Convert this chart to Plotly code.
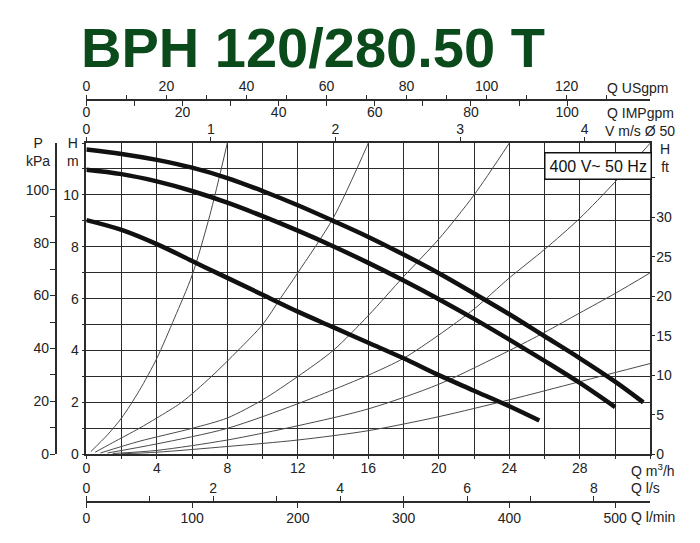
import plotly.graph_objects as go
import math

# page is 700x543; the html body has an 8px margin, so the figure is 684x527
PAGE_W, PAGE_H = 700, 543
OFF = 8
W, H = PAGE_W - 2 * OFF, PAGE_H - 2 * OFF

# ---------------- data ----------------
# pump curves, Q in m3/h, H in m
qA = [0, 2, 4, 6, 8, 10, 12, 14, 16, 18, 20, 22, 24, 26, 28, 30, 31.6]
hA = [11.75, 11.58, 11.35, 11.05, 10.65, 10.15, 9.6, 9.0, 8.38, 7.7, 6.98, 6.2, 5.4, 4.55, 3.7, 2.8, 2.0]
qB = [0, 2, 4, 6, 8, 10, 12, 14, 16, 18, 20, 22, 24, 26, 28, 30]
hB = [10.97, 10.8, 10.52, 10.15, 9.7, 9.18, 8.62, 8.02, 7.38, 6.7, 5.98, 5.22, 4.42, 3.6, 2.75, 1.82]
qC = [0, 2, 4, 6, 8, 10, 12, 14, 16, 18, 20, 22, 24, 25.7]
hC = [9.03, 8.65, 8.1, 7.45, 6.8, 6.15, 5.5, 4.9, 4.3, 3.7, 3.05, 2.45, 1.85, 1.3]

# system curves (thin)
qS1 = [0.25, 1.2, 2, 3, 4, 5, 6, 7, 8]
hS1 = [0.1, 0.75, 1.4, 2.45, 3.7, 5.25, 6.9, 9.2, 12.0]
qS2 = [0.5, 1.5, 3, 4, 5.4, 7.1, 8.6, 10, 11, 12, 14, 16]
hS2 = [0.08, 0.45, 1.0, 1.4, 2.0, 3.0, 4.0, 5.0, 6.0, 7.0, 9.1, 12.0]
qS3 = [0.8, 3, 6, 8, 10, 12, 14, 16, 18, 20, 22, 24]
hS3 = [0.05, 0.5, 1.0, 1.4, 2.1, 3.0, 4.0, 5.35, 6.85, 8.3, 10.0, 12.0]
qS4 = [1.2, 4, 8, 12, 16, 18, 20, 22, 24, 26, 28, 30, 32]
hS4 = [0.05, 0.4, 1.0, 1.95, 3.05, 3.7, 4.6, 5.6, 6.8, 7.9, 9.1, 10.5, 12.0]
qS5 = [1.5, 4, 8, 12, 16, 20, 24, 26, 28, 30, 32]
hS5 = [0.03, 0.15, 0.55, 1.1, 1.75, 2.7, 4.0, 4.7, 5.45, 6.2, 7.0]
qS6 = [2, 4, 8, 12, 16, 20, 24, 28, 32]
hS6 = [0.02, 0.08, 0.3, 0.55, 0.91, 1.45, 2.1, 2.8, 3.5]

# axis ticks
q_ticks = list(range(0, 33, 2))
q_labels = [str(v) if v % 4 == 0 and v < 32 else " " for v in q_ticks]
h_ticks = list(range(0, 13))
h_labels = [str(v) if v % 2 == 0 and v < 12 else " " for v in h_ticks]
us_ticks = list(range(0, 131, 10))
us_labels = [str(v) if v % 20 == 0 else " " for v in us_ticks]
imp_ticks = list(range(0, 101, 10))
imp_labels = [str(v) if v % 20 == 0 else " " for v in imp_ticks]
v_ticks = [0, 1, 2, 3, 4]
ls_ticks = list(range(0, 9))
ls_labels = [str(v) if v % 2 == 0 else " " for v in ls_ticks]
lmin_ticks = list(range(0, 501, 100))
kpa_ticks = list(range(0, 101, 10))
kpa_labels = [str(v) if v % 20 == 0 else " " for v in kpa_ticks]
ft_ticks = list(range(0, 36, 5))
ft_labels = [str(v) if v <= 30 else " " for v in ft_ticks]

Q_MAX, H_MAX = 32, 12
# ---------------------------------------------------------------

FONT = "Liberation Sans, Arial, sans-serif"
AX = "#2b2b2b"

def px(x):
    return (x - OFF) / W

def py(y):
    return 1 - (y - OFF) / H

fig = go.Figure()

thin = dict(color="#4a4a4a", width=1)
for q, h in [(qS1, hS1), (qS2, hS2), (qS3, hS3), (qS4, hS4), (qS5, hS5), (qS6, hS6)]:
    fig.add_trace(go.Scatter(x=q, y=h, mode="lines", line=dict(shape="spline", smoothing=0.8, **thin),
                             hoverinfo="skip"))
for q, h in [(qA, hA), (qB, hB), (qC, hC)]:
    fig.add_trace(go.Scatter(x=q, y=h, mode="lines",
                             line=dict(color="#111111", width=4.5, shape="spline", smoothing=1.0)))

# dummy traces to activate the extra axes
for xa in ["x2", "x3", "x4", "x5", "x6"]:
    fig.add_trace(go.Scatter(x=[None], y=[None], xaxis=xa, yaxis="y", showlegend=False))
for ya in ["y2", "y3"]:
    fig.add_trace(go.Scatter(x=[None], y=[None], xaxis="x", yaxis=ya, showlegend=False))

xdom = [px(83), px(652)]
ydom = [py(460), py(139)]
tf = dict(family=FONT, size=14, color="#222")

common = dict(showgrid=False, zeroline=False, linecolor=AX, linewidth=1.5,
              ticks="outside", tickcolor=AX, tickwidth=1.3, tickfont=tf, tickmode="array")

us_per_m3h = 264.172 / 60
imp_per_m3h = 219.969 / 60
v_per_m3h = 1 / (3600 * math.pi * 0.025 ** 2)
ls_per_m3h = 1 / 3.6
lmin_per_m3h = 1000 / 60
kpa_per_m = 9.80665
ft_per_m = 1 / 0.3048

fig.update_layout(
    width=W, height=H, margin=dict(l=0, r=0, t=0, b=0),
    paper_bgcolor="white", plot_bgcolor="white", showlegend=False,
    font=dict(family=FONT, color="#222"),
    xaxis=dict(domain=xdom, range=[0, Q_MAX], tickvals=q_ticks, ticktext=q_labels,
               showgrid=True, gridcolor=AX, gridwidth=1.3, zeroline=False,
               showline=True, linecolor=AX, linewidth=1.5, mirror=True,
               ticks="outside", ticklen=3, tickcolor=AX, tickfont=tf, anchor="y",
               ticklabelstandoff=-3),
    yaxis=dict(domain=ydom, range=[0, H_MAX], tickvals=h_ticks, ticktext=h_labels,
               showgrid=True, gridcolor=AX, gridwidth=1.3, zeroline=False,
               showline=True, linecolor=AX, linewidth=1.5, mirror=True,
               ticks="outside", ticklen=3, tickcolor=AX, tickfont=tf, anchor="x"),
    xaxis2=dict(overlaying="x", anchor="free", position=py(95), side="top",
                range=[0, Q_MAX * us_per_m3h], tickvals=us_ticks, ticktext=us_labels,
                ticklen=5, showline=True, ticklabelstandoff=-2, **common),
    xaxis3=dict(overlaying="x", anchor="free", position=py(95), side="bottom",
                range=[0, Q_MAX * imp_per_m3h], tickvals=imp_ticks, ticktext=imp_labels,
                ticklen=5, showline=True, ticklabelstandoff=-6, **common),
    xaxis4=dict(overlaying="x", anchor="y", side="top",
                range=[0, Q_MAX * v_per_m3h], tickvals=v_ticks, ticktext=[str(v) for v in v_ticks],
                ticklen=5, showline=False, ticklabelstandoff=-3, **common),
    xaxis5=dict(overlaying="x", anchor="free", position=py(509), side="top",
                range=[0, Q_MAX * ls_per_m3h], tickvals=ls_ticks, ticktext=ls_labels,
                ticklen=5, showline=True, ticklabelstandoff=-3, **common),
    xaxis6=dict(overlaying="x", anchor="free", position=py(509), side="bottom",
                range=[0, Q_MAX * lmin_per_m3h], tickvals=lmin_ticks, ticktext=[str(v) for v in lmin_ticks],
                ticklen=5, showline=True, ticklabelstandoff=-1, **common),
    yaxis2=dict(overlaying="y", anchor="free", position=px(52), side="left",
                range=[0, H_MAX * kpa_per_m], tickvals=kpa_ticks, ticktext=kpa_labels,
                ticklen=5, showline=True, ticklabelstandoff=-2, **common),
    yaxis3=dict(overlaying="y", anchor="x", side="right",
                range=[0, H_MAX * ft_per_m], tickvals=ft_ticks, ticktext=ft_labels,
                ticklen=4, showline=False, ticklabelstandoff=-2, **common),
)

def ann(text, x, y, xanchor="left", size=14, **kw):
    fig.add_annotation(text=text, x=px(x), y=py(y), xref="paper", yref="paper",
                       xanchor=xanchor, yanchor="middle", showarrow=False,
                       font=dict(family=FONT, size=size, color="#222"), **kw)

ann("Q USgpm", 606, 82)
ann("Q IMPgpm", 606, 108)
ann("V m/s Ø 50", 604, 127)
ann("P<br>kPa", 34, 148, xanchor="center")
ann("H<br>m", 70, 148, xanchor="center")
ann("H<br>ft", 660, 154)
ann("Q m<sup>3</sup>/h", 630, 476)
ann("Q l/s", 630, 495)
ann("Q l/min", 630, 525)

fig.add_annotation(text="400 V~ 50 Hz", x=px(599), y=py(163), xref="paper", yref="paper",
                   xanchor="center", yanchor="middle", showarrow=False,
                   font=dict(family=FONT, size=16, color="#111"),
                   bgcolor="white", bordercolor="#111", borderwidth=1.5, borderpad=4)

fig.add_annotation(text="<b>BPH 120/280.50 T</b>", x=px(76), y=py(40), xref="paper", yref="paper",
                   xanchor="left", yanchor="middle", showarrow=False,
                   font=dict(family="Liberation Sans, Arial, sans-serif", size=56, color="#0a4a1b"))

fig.write_html("out.html", config={"displayModeBar": False})
